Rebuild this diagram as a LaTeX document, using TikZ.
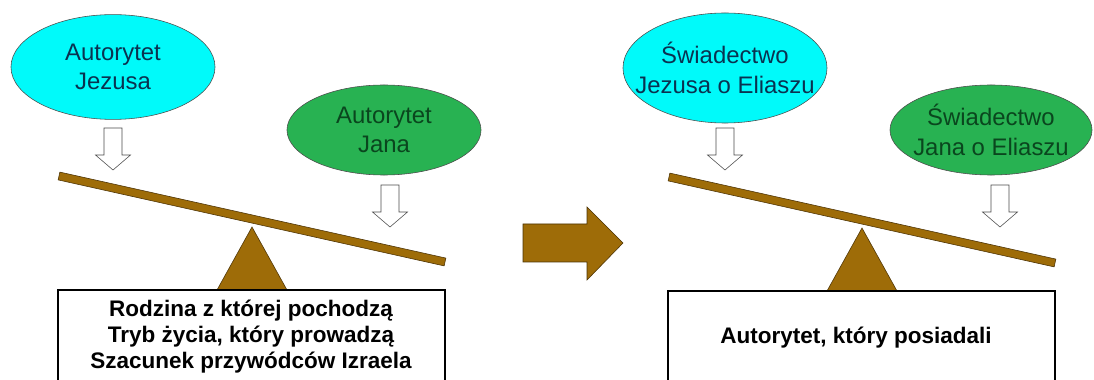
\documentclass[tikz,border=0pt]{standalone}
\usepackage{fontspec}
\setmainfont{Liberation Sans}
\usetikzlibrary{calc, shapes.geometric}
\definecolor{jesusfill}{RGB}{0, 250, 250}
\definecolor{jesustext}{RGB}{10, 50, 80}
\definecolor{johnfill}{RGB}{40, 178, 82}
\definecolor{johntext}{RGB}{10, 70, 30}
\definecolor{woodfill}{RGB}{158, 108, 8}
\definecolor{woodline}{RGB}{75, 50, 5}
\tikzset{
    bubble/.style={ellipse, draw=black!70, thin, inner xsep=-.45cm,
        inner ysep=0pt, align=center, font=\fontsize{17}{21}\selectfont},
    plate/.style={align=center, font=\bfseries\fontsize{16}{18.5}\selectfont},
    % white block arrow pointing down, top at the origin
    weight/.pic={
        \draw[black!70, fill=white] (-9, 0) -- (9, 0) -- (9, 27) -- (17.5, 27)
            -- (0, 42) -- (-17.5, 27) -- (-9, 27) -- cycle;
    },
    % beam, pivot and base box, origin at the tip of the pivot
    seesaw/.pic={
        \draw[fill=woodfill, draw=woodline, thin] (-35, 63) -- (0, 0)
            -- (35, 63) -- cycle;
        \coordinate (-l) at (-193, -51);
        \coordinate (-r) at (193, 35);
        \draw[fill=woodfill, draw=woodline, thin]
            ($(-l)!.1cm!90:(-r)$) -- ($(-r)!.1cm!-90:(-l)$)
            -- ($(-r)!.1cm!90:(-l)$) -- ($(-l)!.1cm!-90:(-r)$) -- cycle;
        \draw[thick, fill=white] (-194, 63) rectangle (193, 190);
    },
}
\begin{document}
\begin{tikzpicture}[x=.025cm, y=-.025cm]
    \useasboundingbox (0, 0) rectangle (1094, 380);
    \begin{scope}
        \clip (0, 0) rectangle (1094, 380);
        % left scale
        \coordinate (leftpivot) at (252, 227);
        \pic at (leftpivot) {seesaw};
        \node[plate] (leftbase) at (251, 337)
            {Rodzina z której pochodzą\\Tryb życia, który prowadzą\\%
            Szacunek przywódców Izraela};
        \node[bubble, fill=jesusfill, text=jesustext, minimum width=5.1cm,
            minimum height=2.62cm] (leftjesus) at (113, 67)
            {Autorytet\\Jezusa};
        \node[bubble, fill=johnfill, text=johntext, minimum width=4.85cm,
            minimum height=2.25cm] (leftjohn) at (384, 130)
            {Autorytet\\Jana};
        \pic at (113, 128) {weight};
        \pic at (390, 185) {weight};
        % right scale
        \coordinate (rightpivot) at (862, 228);
        \pic at (rightpivot) {seesaw};
        \node[plate] (rightbase) at (856, 338) {Autorytet, który posiadali};
        \node[bubble, fill=jesusfill, text=jesustext, minimum width=5.1cm,
            minimum height=2.75cm] (rightjesus) at (725, 68)
            {Świadectwo\\Jezusa o Eliaszu};
        \node[bubble, fill=johnfill, text=johntext, minimum width=5.05cm,
            minimum height=2.25cm] (rightjohn) at (991, 130)
            {Świadectwo\\Jana o Eliaszu};
        \pic at (725, 128) {weight};
        \pic at (1000, 185) {weight};
        % step from left to right
        \draw[fill=woodfill, draw=woodline, thin] (523, 224) -- (587, 224)
            -- (587, 207) -- (623, 243) -- (587, 280) -- (587, 262)
            -- (523, 262) -- cycle;
    \end{scope}
\end{tikzpicture}
\end{document}
